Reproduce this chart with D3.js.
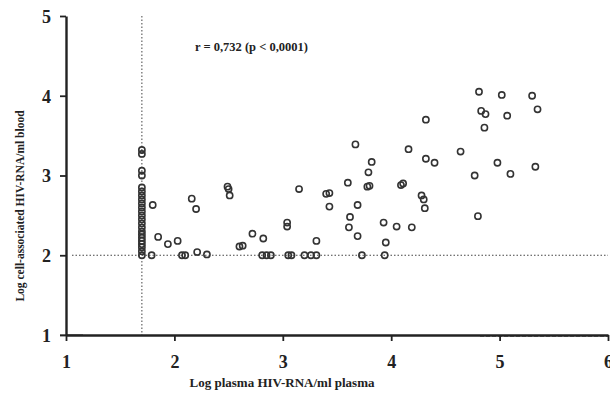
<!DOCTYPE html>
<html><head><meta charset="utf-8">
<script src="https://cdn.jsdelivr.net/npm/d3@7"></script>
<style>body{margin:0;background:#fff}</style>
</head><body><svg id="c" width="610" height="395"></svg>
<script>
const xTicks = [1, 2, 3, 4, 5, 6];
const yTicks = [1, 2, 3, 4, 5];
const cutoffX = 1.7;
const cutoffY = 2;
const statText = "r = 0,732 (p < 0,0001)";
const xLabel = "Log plasma HIV-RNA/ml plasma";
const yLabel = "Log cell-associated HIV-RNA/ml blood";

// points at the plasma detection limit (x = 1.7)
const limitY = [3.32,3.27,3.06,3.0,2.85,2.8,2.75,2.7,2.65,2.6,2.55,2.5,2.45,2.4,2.35,2.3,2.26,2.22,2.18,2.14,2.1,2.05,2.0];
// remaining points
const plasmaX = [1.8,1.85,1.94,2.03,1.79,2.07,2.1,2.16,2.2,2.21,2.3,2.49,2.5,2.51,2.6,2.63,2.72,2.82,2.81,2.85,2.89,3.04,3.04,3.05,3.08,3.15,3.2,3.26,3.31,3.31,3.4,3.43,3.43,
  3.67,4.16,4.32,4.4,3.82,3.79,3.6,3.78,3.8,4.09,4.11,3.69,3.62,3.61,3.69,3.93,4.05,4.19,3.95,4.28,4.3,4.31,3.73,3.94,
  4.81,5.02,5.3,5.35,4.83,4.87,5.07,4.86,4.64,4.98,5.33,4.77,5.1,4.32,4.8];
const cellY =   [2.63,2.23,2.14,2.18,2.0,2.0,2.0,2.71,2.58,2.04,2.01,2.86,2.83,2.75,2.11,2.12,2.27,2.21,2.0,2.0,2.0,2.41,2.36,2.0,2.0,2.83,2.0,2.0,2.0,2.18,2.77,2.78,2.61,
  3.39,3.33,3.21,3.16,3.17,3.04,2.91,2.86,2.87,2.88,2.9,2.63,2.48,2.35,2.24,2.41,2.36,2.35,2.16,2.75,2.7,2.59,2.0,2.0,
  4.05,4.01,4.0,3.83,3.81,3.77,3.75,3.6,3.3,3.16,3.11,3.0,3.02,3.7,2.49];

const svg = d3.select("#c");
const x = d3.scaleLinear().domain([1, 6]).range([66, 608]);
const y = d3.scaleLinear().domain([1, 5]).range([335, 16]);
const serif = "'Liberation Serif','Times New Roman',serif";

const pts = limitY.map(v => [cutoffX, v]).concat(plasmaX.map((v, i) => [v, cellY[i]]));

// faint scan bands near the x axis
svg.append("line").attr("x1", 60).attr("x2", 83).attr("y1", 335).attr("y2", 335)
  .attr("stroke", "#999").attr("stroke-width", 2);
svg.append("line").attr("x1", 480).attr("x2", 608).attr("y1", 336).attr("y2", 336)
  .attr("stroke", "#888").attr("stroke-width", 2).attr("stroke-dasharray", "4,2");

// dotted reference lines
svg.append("line").attr("x1", x(cutoffX)).attr("x2", x(cutoffX)).attr("y1", y(5)).attr("y2", y(1))
  .attr("stroke", "#444").attr("stroke-width", 1).attr("stroke-dasharray", "1.5,2");
svg.append("line").attr("x1", 72).attr("x2", x(6)).attr("y1", y(cutoffY)).attr("y2", y(cutoffY))
  .attr("stroke", "#444").attr("stroke-width", 1).attr("stroke-dasharray", "1.5,2");

// axes
const xa = svg.append("g").attr("transform", `translate(0,${y(1)})`)
  .call(d3.axisBottom(x).tickValues(xTicks).tickSize(6).tickSizeOuter(0).tickFormat(d3.format("d")));
const ya = svg.append("g").attr("transform", `translate(${x(1)},0)`)
  .call(d3.axisLeft(y).tickValues(yTicks).tickSize(6).tickSizeOuter(0).tickFormat(d3.format("d")));
[xa, ya].forEach(a => {
  a.select(".domain").attr("stroke", "#222").attr("stroke-width", 2.4);
  a.selectAll(".tick line").attr("stroke", "#222").attr("stroke-width", 1.8);
  a.selectAll(".tick text").attr("fill", "#222").style("font-family", serif)
    .style("font-weight", "bold").style("font-size", "18px");
});
xa.selectAll(".tick text").attr("dy", "0").attr("y", 33);
ya.selectAll(".tick text").attr("x", -15).attr("dy", "0.35em");

// points
svg.append("g").selectAll("circle").data(pts).join("circle")
  .attr("cx", d => x(d[0])).attr("cy", d => y(d[1])).attr("r", 3.1)
  .attr("fill", "none").attr("stroke", "#333").attr("stroke-width", 1.6);

// texts
svg.append("text").attr("x", 195).attr("y", 51).text(statText)
  .style("font-family", serif).style("font-weight", "bold").style("font-size", "12.5px").attr("fill", "#222");
svg.append("text").attr("x", 282).attr("y", 387).attr("text-anchor", "middle").text(xLabel)
  .style("font-family", serif).style("font-weight", "bold").style("font-size", "13px").attr("fill", "#222");
svg.append("text").attr("transform", "translate(24,206) rotate(-90)").attr("text-anchor", "middle").text(yLabel)
  .style("font-family", serif).style("font-weight", "bold").style("font-size", "11.5px").attr("fill", "#222");
</script></body></html>
